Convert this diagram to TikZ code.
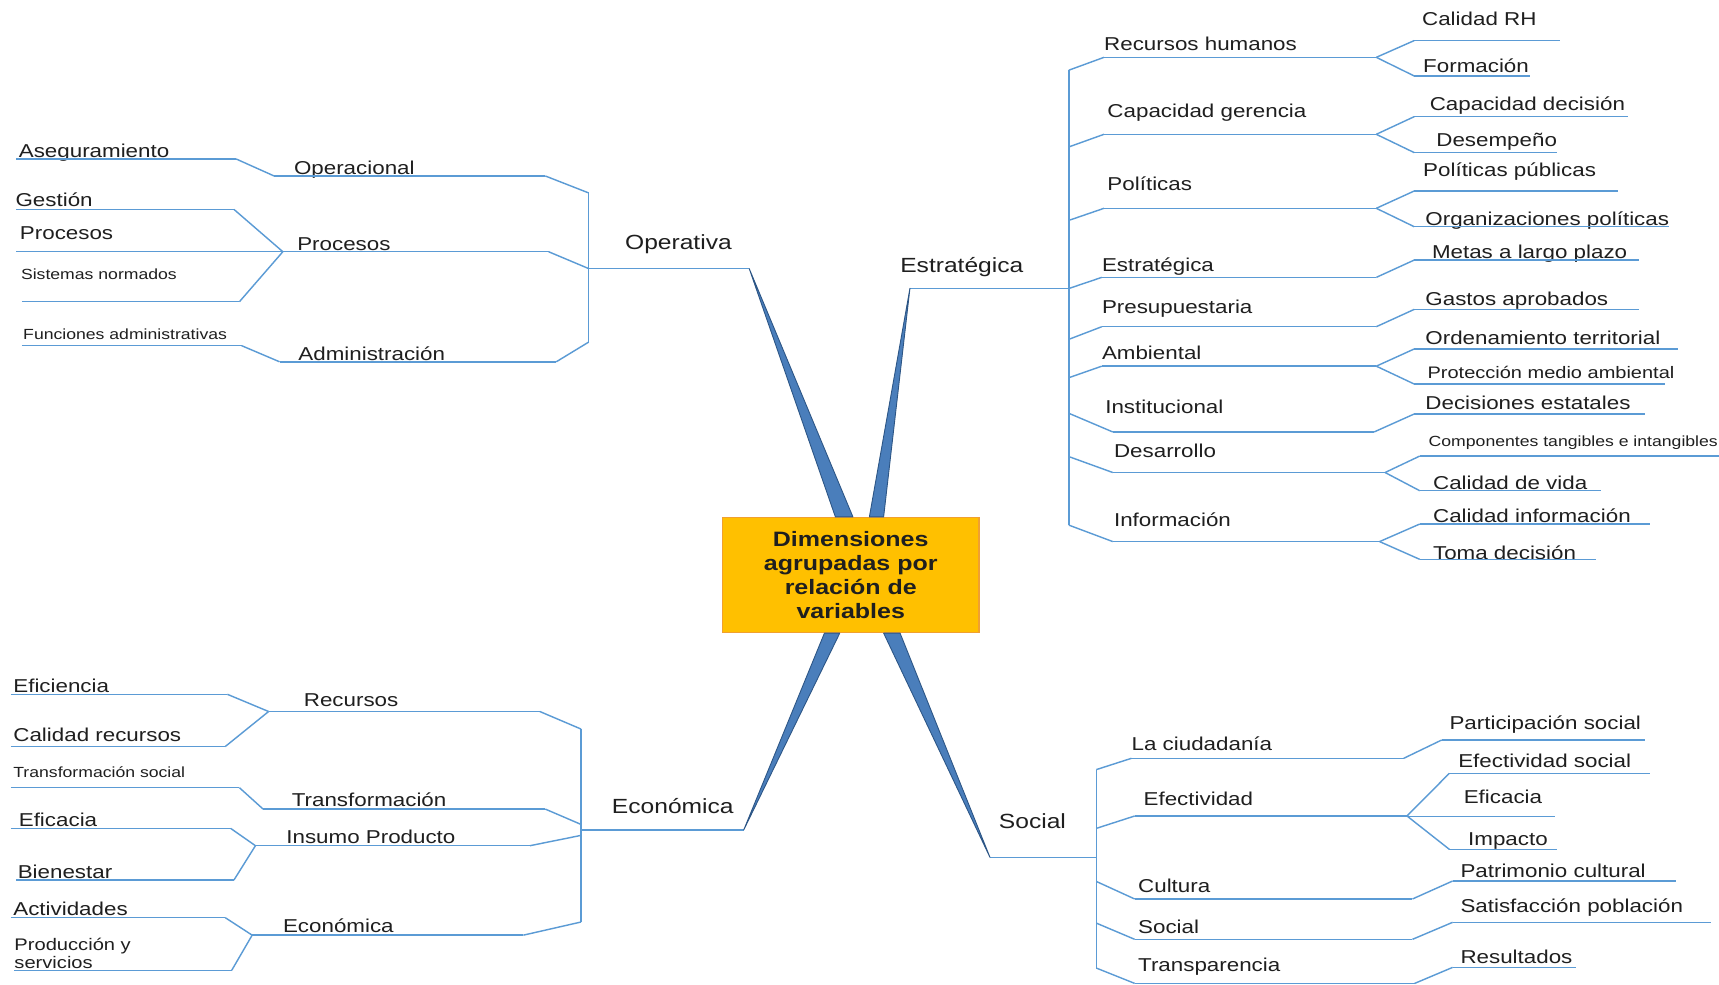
\documentclass[tikz,border=0pt]{standalone}
\usepackage{fontspec}
\setmainfont{Liberation Sans}[FakeStretch=1.2]
\usetikzlibrary{positioning}
\definecolor{linkblue}{HTML}{5B9BD5}
\definecolor{spokeblue}{HTML}{4A7EBB}
\definecolor{spokeedge}{HTML}{2C5585}
\definecolor{boxgold}{HTML}{FFC000}
\definecolor{boxedge}{HTML}{F0A030}
\definecolor{txt}{HTML}{1F1F1F}

\begin{document}
\begin{tikzpicture}[x=1pt, y=-1pt,
  link/.style={draw=linkblue, line width=1.3pt},
  spoke/.style={fill=spokeblue, draw=spokeedge, line width=0.8pt, line join=round},
  item/.style={anchor=south west, inner xsep=0pt, inner ysep=0pt, align=left,
    text depth=2pt, text=txt, font=\fontsize{17}{19}\selectfont,
    append after command={(\tikzlastnode.south west) edge[link] (\tikzlastnode.south east)}},
  small/.style={font=\fontsize{13.4}{15}\selectfont},
  group/.style={font=\fontsize{18.7}{21}\selectfont},
  indent/.style={execute at begin node={\hspace*{#1}}}]

  \path [fill=white, use as bounding box] (0,0) rectangle (1568,898);

  \node (dim) [draw=boxedge, fill=boxgold, line width=1pt, minimum width=234pt, minimum height=105pt,
    inner sep=0pt, align=center, text=txt, font=\bfseries\fontsize{19}{21.7}\selectfont]
    at (776,524.5) {Dimensiones\\agrupadas por\\relación de\\variables};

  % Operativa
  \node (oper) [item, group, text width=146pt, indent=33pt, text depth=17pt] at (537,245) {Operativa};
  \node (opl) [item, text width=247pt, indent=18pt, text depth=1pt] at (250,160.5) {Operacional};
  \node (prm) [item, text width=242pt, indent=13pt, text depth=1pt] at (258,229.6) {Procesos};
  \node (adm) [item, text width=252pt, indent=17pt, text depth=1pt] at (255,330) {Administración};
  \node (asg) [item, text width=200pt, indent=2pt, text depth=1pt] at (15,145) {Aseguramiento};
  \node (ges) [item, text width=198pt, indent=-1pt, text depth=2pt] at (15,191) {Gestión};
  \node (prl) [item, text width=243pt, indent=3pt, text depth=11pt] at (15,229.6) {Procesos};
  \node (sis) [item, small, text width=198pt, indent=-1pt, text depth=20pt] at (20,275.2) {Sistemas normados};
  \node (fun) [item, small, text width=200pt, indent=1pt, text depth=5pt] at (20,315.3) {Funciones administrativas};
  \coordinate (op-t) at (537,176);
  \coordinate (op-b) at (537,312);

  % Estrategica
  \node (estr) [item, group, text width=145pt, indent=-9pt, text depth=14pt] at (830,263) {Estratégica};
  \node (rh) [item, text width=248pt, text depth=6pt] at (1007,52.3) {Recursos humanos};
  \node (cg) [item, text width=248pt, indent=3pt, text depth=15.5pt] at (1007,122.5) {Capacidad gerencia};
  \node (pol) [item, text width=248pt, indent=3pt, text depth=16pt] at (1007,190) {Políticas};
  \node (est) [item, text width=250pt, text depth=5pt] at (1005,253) {Estratégica};
  \node (pre) [item, text width=250pt, text depth=12pt] at (1005,298) {Presupuestaria};
  \node (amb) [item, text width=250pt, text depth=6pt] at (1005,334) {Ambiental};
  \node (ins) [item, text width=238pt, indent=-7pt, text depth=17pt] at (1015,394) {Institucional};
  \node (des) [item, text width=248pt, indent=1pt, text depth=13.6pt] at (1015,431) {Desarrollo};
  \node (inf) [item, text width=243pt, indent=1pt, text depth=13.7pt] at (1015,494) {Información};
  \node (crh) [item, text width=133pt, indent=7pt, text depth=13.7pt] at (1290,37) {Calidad RH};
  \node (frm) [item, text width=105pt, indent=8pt, text depth=3pt] at (1290,69.3) {Formación};
  \node (cde) [item, text width=195pt, indent=14pt, text depth=5pt] at (1290,106.4) {Capacidad decisión};
  \node (dsp) [item, text width=130pt, indent=20pt, text depth=5.4pt] at (1290,139.2) {Desempeño};
  \node (ppu) [item, text width=185pt, indent=8pt, text depth=13pt] at (1290,174.2) {Políticas públicas};
  \node (opo) [item, text width=232pt, indent=10pt, text depth=0.6pt] at (1290,206.8) {\mbox{Organizaciones políticas}};
  \node (met) [item, text width=205pt, indent=16pt, text depth=1.6pt] at (1290,237.2) {Metas a largo plazo};
  \node (gas) [item, text width=205pt, indent=10pt, text depth=3pt] at (1290,282.2) {Gastos aprobados};
  \node (ord) [item, text width=240pt, indent=10pt, text depth=4pt] at (1290,318.3) {Ordenamiento territorial};
  \node (pro) [item, font=\fontsize{15.2}{17}\selectfont, text width=228pt, indent=12pt, text depth=5pt] at (1290,350.3) {\mbox{Protección medio ambiental}};
  \node (dec) [item, text width=210pt, indent=10pt, text depth=4pt] at (1290,377.6) {Decisiones estatales};
  \node (com) [item, small, text width=273pt, indent=8pt, text depth=8.6pt] at (1295,416) {\mbox{Componentes tangibles e intangibles}};
  \node (cvi) [item, text width=165pt, indent=12pt, text depth=1.2pt] at (1295,447.6) {Calidad de vida};
  \node (cin) [item, text width=210pt, indent=12pt, text depth=1.5pt] at (1295,478) {Calidad información};
  \node (tom) [item, text width=160pt, indent=12pt, text depth=0pt] at (1295,510.2) {Toma decisión};
  \coordinate (es-1) at (975,64);
  \coordinate (es-2) at (975,134);
  \coordinate (es-3) at (975,201);
  \coordinate (es-5) at (975,309.5);
  \coordinate (es-6) at (975,344.5);
  \coordinate (es-7) at (975,377);
  \coordinate (es-8) at (975,416.5);
  \coordinate (es-9) at (975,479);

  % Economica
  \node (eco) [item, group, text width=148pt, indent=28pt, text depth=14.6pt] at (530,757) {Económica};
  \node (rec) [item, text width=247pt, indent=32pt, text depth=4.5pt] at (245,649) {Recursos};
  \node (tra) [item, text width=257pt, indent=26pt, text depth=2.5pt] at (240,738) {Transformación};
  \node (isp) [item, text width=250pt, indent=28pt, text depth=2pt] at (233,771.4) {Insumo Producto};
  \node (ecs) [item, text width=247pt, indent=28pt, text depth=2pt] at (230,853) {Económica};
  \node (efi) [item, text width=197pt, indent=2pt, text depth=1pt] at (10,633.3) {Eficiencia};
  \node (cre) [item, text width=195pt, indent=2pt, text depth=4pt] at (10,681) {Calidad recursos};
  \node (trs) [item, small, text width=208pt, indent=2pt, text depth=9.5pt] at (10,718.5) {Transformación social};
  \node (efc) [item, text width=200pt, indent=7pt, text depth=1.6pt] at (10,755.6) {Eficacia};
  \node (bie) [item, text width=198pt, indent=1pt, text depth=1.5pt] at (15,802.7) {Bienestar};
  \node (act) [item, text width=195pt, indent=2pt, text depth=1.6pt] at (10,837) {Actividades};
  \node (pys) [item, font=\fontsize{15.3}{16.5}\selectfont, text width=198pt, text depth=18pt] at (13,885) {Producción y\\servicios};
  \coordinate (ec-1) at (530,665);
  \coordinate (ec-2) at (530,752);
  \coordinate (ec-3) at (530,762);
  \coordinate (ec-4) at (530,841);

  % Social
  \node (soc) [item, group, text width=97pt, indent=8pt, text depth=26pt] at (903,782) {Social};
  \node (ciu) [item, text width=248pt, text depth=6.7pt] at (1032,691.7) {La ciudadanía};
  \node (eft) [item, text width=248pt, indent=8pt, text depth=9pt] at (1035,744.3) {Efectividad};
  \node (cul) [item, text width=253pt, indent=3pt, text depth=6pt] at (1035,820) {Cultura};
  \node (scl) [item, text width=253pt, indent=3pt, text depth=5pt] at (1035,856.8) {Social};
  \node (trp) [item, text width=255pt, indent=3pt, text depth=10.7pt] at (1035,897) {Transparencia};
  \node (par) [item, text width=185pt, indent=7pt, text depth=9.7pt] at (1315,675) {Participación social};
  \node (efs) [item, text width=183pt, indent=8pt, text depth=5pt] at (1322,705.4) {Efectividad social};
  \node (efa) [item, text width=135pt, indent=52pt, text depth=12pt] at (1283,745) {Eficacia};
  \node (imp) [item, text width=98pt, indent=17pt, text depth=3pt] at (1322,774.7) {Impacto};
  \node (pat) [item, text width=203pt, indent=7pt, text depth=3.3pt] at (1325,803.6) {Patrimonio cultural};
  \node (sat) [item, text width=235pt, indent=7pt, text depth=9pt] at (1325,841.3) {Satisfacción población};
  \node (res) [item, text width=112pt, indent=7pt, text depth=3.7pt] at (1325,882.4) {Resultados};
  \coordinate (so-1) at (1000,702);
  \coordinate (so-2) at (1000,755.6);
  \coordinate (so-3) at (1000,804);
  \coordinate (so-4) at (1000,842);
  \coordinate (so-5) at (1000,883);

  % spokes
  \draw [spoke] ([xshift=-14pt]dim.north) -- (oper.south east) -- ([xshift=2pt]dim.north) -- cycle;
  \draw [spoke] ([xshift=17pt]dim.north) -- (estr.south west) -- ([xshift=30pt]dim.north) -- cycle;
  \draw [spoke] ([xshift=-24pt]dim.south) -- (eco.south east) -- ([xshift=-10pt]dim.south) -- cycle;
  \draw [spoke] ([xshift=30pt]dim.south) -- (soc.south west) -- ([xshift=45pt]dim.south) -- cycle;

  \path [link]
  (op-t) edge (op-b)
  (opl.south east) edge (op-t)
  (prm.south east) edge (oper.south west)
  (adm.south east) edge (op-b)
  (asg.south east) edge (opl.south west)
  (ges.south east) edge (prm.south west)
  (sis.south east) edge (prm.south west)
  (fun.south east) edge (adm.south west)
  (es-1) edge (es-9)
  (es-1) edge (rh.south west)
  (es-2) edge (cg.south west)
  (es-3) edge (pol.south west)
  (estr.south east) edge (est.south west)
  (es-5) edge (pre.south west)
  (es-6) edge (amb.south west)
  (es-7) edge (ins.south west)
  (es-8) edge (des.south west)
  (es-9) edge (inf.south west)
  (rh.south east) edge (crh.south west)
  (rh.south east) edge (frm.south west)
  (cg.south east) edge (cde.south west)
  (cg.south east) edge (dsp.south west)
  (pol.south east) edge (ppu.south west)
  (pol.south east) edge (opo.south west)
  (est.south east) edge (met.south west)
  (pre.south east) edge (gas.south west)
  (amb.south east) edge (ord.south west)
  (amb.south east) edge (pro.south west)
  (ins.south east) edge (dec.south west)
  (des.south east) edge (com.south west)
  (des.south east) edge (cvi.south west)
  (inf.south east) edge (cin.south west)
  (inf.south east) edge (tom.south west)
  (ec-1) edge (ec-4)
  (rec.south east) edge (ec-1)
  (tra.south east) edge (ec-2)
  (isp.south east) edge (ec-3)
  (ecs.south east) edge (ec-4)
  (efi.south east) edge (rec.south west)
  (cre.south east) edge (rec.south west)
  (trs.south east) edge (tra.south west)
  (efc.south east) edge (isp.south west)
  (bie.south east) edge (isp.south west)
  (act.south east) edge (ecs.south west)
  (pys.south east) edge (ecs.south west)
  (so-1) edge (so-5)
  (so-1) edge (ciu.south west)
  (so-2) edge (eft.south west)
  (so-3) edge (cul.south west)
  (so-4) edge (scl.south west)
  (so-5) edge (trp.south west)
  (ciu.south east) edge (par.south west)
  (eft.south east) edge (efs.south west)
  (eft.south east) edge (imp.south west)
  (cul.south east) edge (pat.south west)
  (scl.south east) edge (sat.south west)
  (trp.south east) edge (res.south west);
\end{tikzpicture}
\end{document}
